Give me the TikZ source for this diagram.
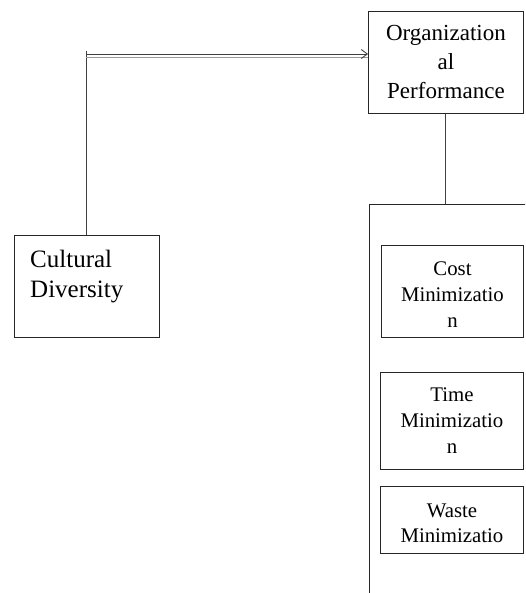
\documentclass[tikz,border=0pt]{standalone}
\usepackage{fontspec}
\setmainfont{Liberation Serif}
\usetikzlibrary{arrows.meta}
\begin{document}
\begin{tikzpicture}[x=1pt,y=-1pt,
  box/.style={draw=black!85, line width=0.9pt, inner sep=0pt, anchor=north west},
  txt/.style={inner sep=0pt, align=center},
  conn/.style={draw=black!75, line width=0.9pt}]
\useasboundingbox (0,0) rectangle (525,593);
\clip (0,0) rectangle (525,593);
% boxes
\node[box, minimum width=155pt, minimum height=102pt] (org) at (368,11) {};
\node[box, minimum width=145pt, minimum height=102pt] (cult) at (14,235) {};
\node[box, minimum width=200pt, minimum height=420pt] (grp) at (368.5,204) {};
\node[box, minimum width=142pt, minimum height=92pt] (cost) at (381,245) {};
\node[box, minimum width=143pt, minimum height=97pt] (time) at (380,372) {};
\node[box, minimum width=143pt, minimum height=67pt] (waste) at (380,486) {};
% texts
\node[txt, font=\fontsize{23}{29}\selectfont] (orgt) at (org.center) {Organization\\al\\Performance};
\node[txt, align=left, anchor=north west, font=\fontsize{25}{30}\selectfont] (cultt) at (30,250) {Cultural\\Diversity};
\node[txt, font=\fontsize{20.8}{26}\selectfont] (costt) at ([yshift=-3pt]cost.center) {Cost\\Minimizatio\\n};
\node[txt, font=\fontsize{20.8}{26}\selectfont] (timet) at (time.center) {Time\\Minimizatio\\n};
\node[txt, font=\fontsize{20.8}{25}\selectfont] (wastet) at ([yshift=-3pt]waste.center) {Waste\\Minimizatio};
% connectors
\coordinate (corner) at (86,54);
\draw[conn] (cult.north -| corner) -- ([yshift=3pt]corner);
\draw[black!40, line width=0.9pt] ([yshift=-3pt]corner) -- ([yshift=-3pt]org.west |- corner);
\draw[conn, -{Straight Barb[length=6pt,width=9pt]}] (corner) -- (org.west |- corner);
\draw[conn] (org.south -| 445,0) -- (grp.north -| 445,0);
\end{tikzpicture}
\end{document}
